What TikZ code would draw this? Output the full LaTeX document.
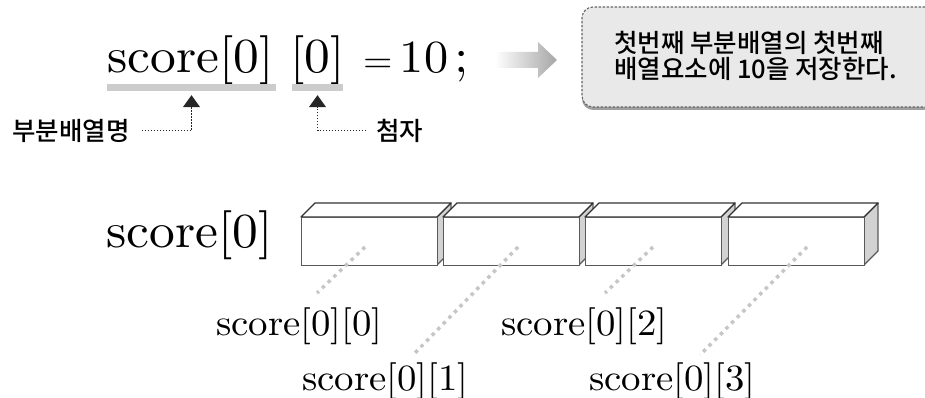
\documentclass[tikz,border=0pt]{standalone}
\usepackage{fontspec}
\newfontfamily\kr{Noto Sans CJK KR Medium}
\newfontfamily\wsf{lmroman10-regular}[Extension=.otf, FakeStretch=1.05]
\usetikzlibrary{shadows,arrows.meta,calc}
\begin{document}
\begin{tikzpicture}[x=1pt,y=-1pt,
  big/.style={font=\wsf\fontsize{49}{59}\selectfont, inner sep=0pt, anchor=base west},
  lbl/.style={font=\wsf\fontsize{37}{45}\selectfont, inner sep=0pt, anchor=base west},
  kor/.style={font=\kr\fontsize{25.5}{26}\selectfont, inner sep=0pt},
  bar/.style={fill=gray!40, inner sep=0pt, minimum height=7pt},
  note/.style={draw=black!60, fill=gray!17, line width=1.1pt, dash pattern=on 2.5pt off 1.5pt,
    rounded corners=11pt, inner sep=0pt,
    drop shadow={shadow xshift=0pt, shadow yshift=-3pt, fill=gray!75, opacity=1}},
  front/.style={draw=black!65, fill=white, line width=1.3pt, minimum width=136pt, minimum height=48pt, inner sep=0pt},
  topface/.style={draw=black!80, fill=white, line width=1.3pt, line join=round},
  sideface/.style={draw=black!65, fill=gray!35, line width=1.3pt, line join=round},
  dotline/.style={draw=gray!45, line width=3.5pt, dash pattern=on 3.5pt off 4.5pt},
  guide/.style={draw=black!85, line width=1pt, dash pattern=on 1.5pt off 1.5pt,
    -{Triangle[width=17pt,length=12pt]}, shorten >=4pt}
]
\useasboundingbox (0,0) rectangle (925,398);
\clip (0,0) rectangle (925,398);

% top statement
\node[big] (s1) at (107,73) {score[0]};
\node[big] (s2) at (290,73) {[0]};
\node[big, anchor=base, font=\wsf\fontsize{36}{40}\selectfont] (eq) at (378,73) {=};
\node[big, anchor=base, font=\wsf\fontsize{46}{50}\selectfont] (ten) at (424,73) {10};
\node[big, anchor=base] (semi) at (462,73) {;};

% underline bars
\node[bar, minimum width=169pt] (bar1) at (191.5,87.5) {};
\node[bar, minimum width=51pt] (bar2) at (317.5,87.5) {};

% korean labels and guides
\node[kor, anchor=west] (k1) at (12,131) {부분배열명};
\node[kor, anchor=west] (k2) at (376,131) {첨자};
\draw[guide, shorten <=12pt] (k1.east) -| (bar1.south);
\draw[guide, shorten <=10pt] (k2.west) -| (bar2.south);

% gradient arrow
\shade[left color=white, right color=gray!70] (495,52) -- (538,52) -- (538,42) -- (557,60) -- (538,78) -- (538,68) -- (495,68) -- cycle;

% note box
\node[note, minimum width=362pt, minimum height=100pt] (note) at (763,57) {};
\node[kor, anchor=west, align=left] (notetext) at (614,56) {첫번째 부분배열의 첫번째\\배열요소에 10을 저장한다.};

% row label
\node[big] (row) at (106,247) {score[0]};

% 3D boxes
\foreach \i/\x in {1/301,2/443,3/585,4/728} {
  \path[sideface] (\x+136,217) -- ++(14,-14) -- ++(0,48) -- ++(-14,14) -- cycle;
  \path[topface] (\x,217) -- ++(14,-14) -- ++(136,0) -- ++(-14,14) -- cycle;
  \node[front, anchor=north west] (b\i) at (\x,217) {};
}

% element labels
\node[lbl] (l1) at (216,335) {score[0][0]};
\node[lbl] (l2) at (302,390) {score[0][1]};
\node[lbl] (l3) at (501,335) {score[0][2]};
\node[lbl] (l4) at (589,390) {score[0][3]};

% dotted connectors
\coordinate (p1) at (365,247); \coordinate (q1) at (317,293);
\coordinate (p2) at (518,247); \coordinate (q2) at (413,355);
\coordinate (p3) at (653,247); \coordinate (q3) at (605,293);
\coordinate (p4) at (807,247); \coordinate (q4) at (700,355);
\draw[dotline] (p1) -- (q1);
\draw[dotline] (p2) -- (q2);
\draw[dotline] (p3) -- (q3);
\draw[dotline] (p4) -- (q4);
\end{tikzpicture}
\end{document}
